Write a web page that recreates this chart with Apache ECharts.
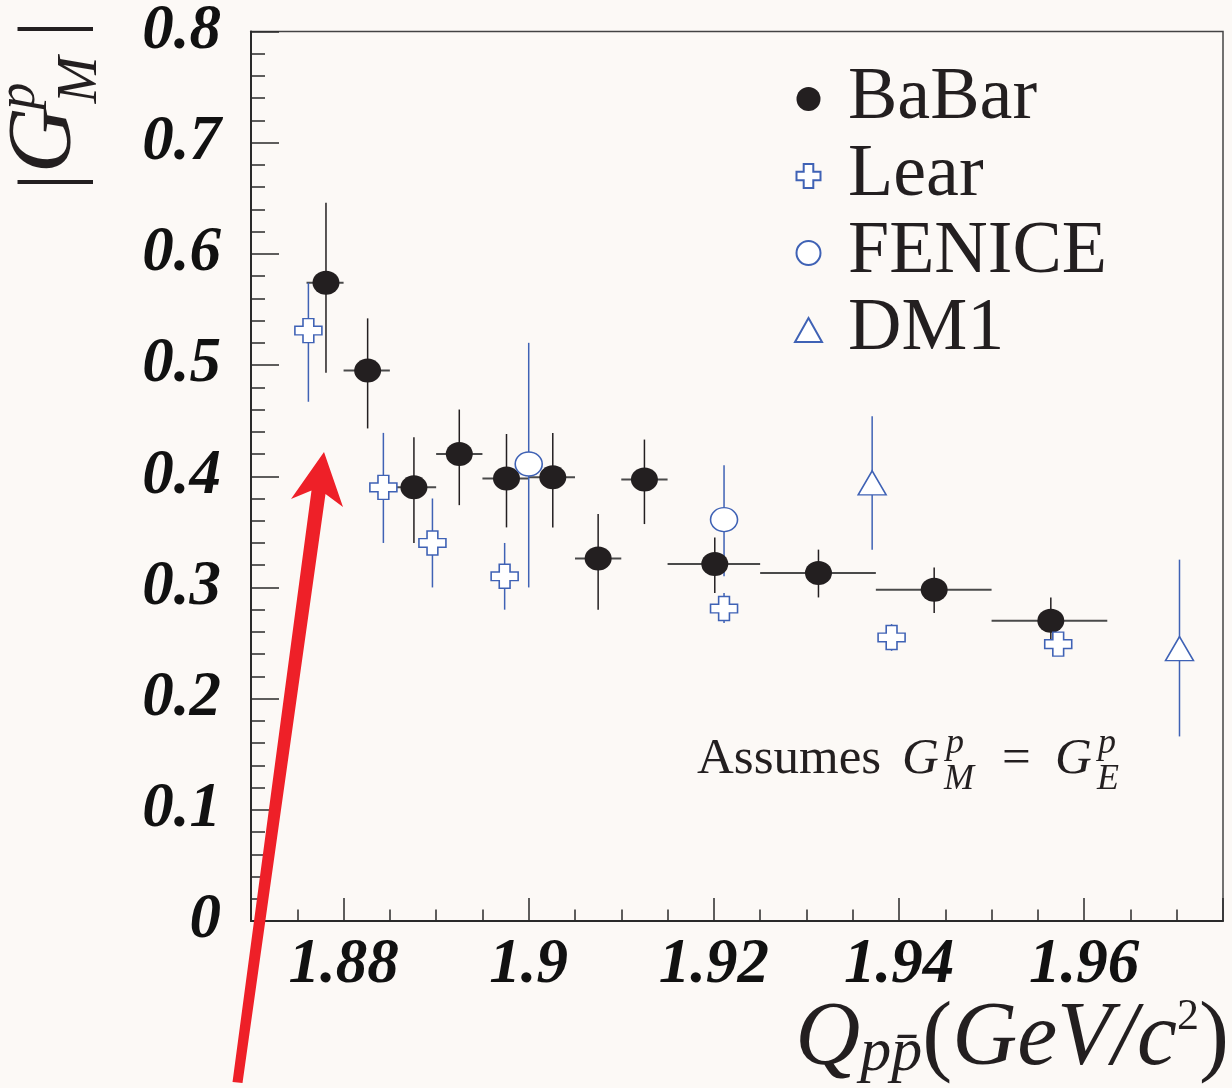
<!DOCTYPE html>
<html>
<head>
<meta charset="utf-8">
<title>|G_M^p| near threshold</title>
<script src="https://cdn.jsdelivr.net/npm/echarts@6.0.0/dist/echarts.min.js"></script>
<style>
  html, body { margin: 0; padding: 0; background: #fcf9f6; }
  #chart { width: 1232px; height: 1088px; }
</style>
</head>
<body>
<div id="chart"></div>
<script>
// BaBar: point, vertical error, mass bin
const babarX = [1.8781, 1.8826, 1.8876, 1.8925, 1.8976, 1.9026, 1.9075, 1.9125, 1.9201, 1.9313, 1.9438, 1.9564];
const babarY = [0.574, 0.495, 0.390, 0.420, 0.398, 0.399, 0.326, 0.397, 0.321, 0.313, 0.298, 0.270];
const babarLo = [0.493, 0.443, 0.340, 0.374, 0.354, 0.354, 0.280, 0.357, 0.295, 0.291, 0.277, 0.248];
const babarHi = [0.646, 0.542, 0.435, 0.460, 0.438, 0.439, 0.366, 0.433, 0.345, 0.334, 0.318, 0.291];
const babarBinLo = [1.876, 1.880, 1.885, 1.890, 1.895, 1.900, 1.905, 1.910, 1.915, 1.925, 1.9375, 1.950];
const babarBinHi = [1.880, 1.885, 1.890, 1.895, 1.900, 1.905, 1.910, 1.915, 1.925, 1.9375, 1.950, 1.9625];

const learX = [1.8762, 1.8843, 1.8896, 1.8974, 1.9211, 1.9392, 1.9572];
const learY = [0.531, 0.390, 0.340, 0.310, 0.281, 0.255, 0.249];
const learLo = [0.467, 0.340, 0.300, 0.280, 0.268, 0.243, 0.240];
const learHi = [0.574, 0.439, 0.380, 0.340, 0.295, 0.267, 0.258];

const feniceX = [1.9000, 1.9211];
const feniceY = [0.411, 0.361];
const feniceLo = [0.300, 0.310];
const feniceHi = [0.520, 0.410];

const dm1X = [1.9371, 1.9703];
const dm1Y = [0.394, 0.245];
const dm1Lo = [0.334, 0.166];
const dm1Hi = [0.454, 0.325];

const legendNames = ['BaBar', 'Lear', 'FENICE', 'DM1'];

const SERIF = '"Liberation Serif", "DejaVu Serif", serif';
const INK = '#231f20';
const BLUE = '#3f62b5';
const AXIS = '#2a2a2a';
const CROSS = 'path://M3,0H7V3.2H10V6.8H7V10H3V6.8H0V3.2H3Z';

function errRows(xs, ys, lo, hi, binLo, binHi) {
  return xs.map((x, i) => [x, ys[i], lo[i], hi[i], binLo ? binLo[i] : x, binHi ? binHi[i] : x]);
}

function errorBars(color, width, binColor) {
  return function (params, api) {
    const x = api.value(0);
    const y = api.value(1);
    const top = api.coord([x, api.value(3)]);
    const bot = api.coord([x, api.value(2)]);
    const children = [{
      type: 'line',
      shape: { x1: top[0], y1: top[1], x2: bot[0], y2: bot[1] },
      style: { stroke: color, lineWidth: width }
    }];
    if (api.value(4) !== api.value(5)) {
      const l = api.coord([api.value(4), y]);
      const r = api.coord([api.value(5), y]);
      children.push({
        type: 'line',
        shape: { x1: l[0], y1: l[1], x2: r[0], y2: r[1] },
        style: { stroke: binColor, lineWidth: 2 }
      });
    }
    return { type: 'group', children };
  };
}

function errSeries(name, data, color, binColor) {
  return {
    name: name + ' err',
    type: 'custom',
    renderItem: errorBars(color, 1.5, binColor),
    data,
    encode: { x: 0, y: 1 },
    z: 2,
    silent: true
  };
}

function markSeries(name, xs, ys, symbol, size, style) {
  return {
    name,
    type: 'scatter',
    data: xs.map((x, i) => [x, ys[i]]),
    symbol,
    symbolSize: size,
    itemStyle: style,
    z: 5,
    silent: true
  };
}

const openStyle = { color: '#ffffff', borderColor: BLUE, borderWidth: 1.5, opacity: 1 };

function txt(x, y, text, size, extra) {
  return {
    type: 'text', x, y,
    style: Object.assign({
      text, fontFamily: SERIF, fontSize: size, fill: INK,
      align: 'left', verticalAlign: 'middle'
    }, extra || {})
  };
}
const ital = { fontStyle: 'italic' };

const chart = echarts.init(document.getElementById('chart'), null, { renderer: 'canvas' });

chart.setOption({
  backgroundColor: '#fcf9f6',
  animation: false,
  grid: { left: 251, right: 9, top: 31, bottom: 167, show: true, borderColor: '#444', borderWidth: 1.5 },
  legend: {
    data: legendNames,
    orient: 'vertical',
    left: 789,
    top: 57,
    itemWidth: 27,
    itemHeight: 24,
    itemGap: 3,
    selectedMode: false,
    formatter: (name) => '{t|' + name + '}',
    textStyle: {
      fontFamily: SERIF, fontSize: 74, lineHeight: 74, color: INK,
      rich: { t: { fontFamily: SERIF, fontSize: 74, lineHeight: 74, color: INK, padding: [0, 0, 0, 21] } }
    }
  },
  xAxis: [{
    type: 'value',
    min: 1.87,
    max: 1.975,
    splitNumber: 5,
    axisLine: { show: true, lineStyle: { color: AXIS, width: 2 } },
    axisTick: { inside: true, length: 23, lineStyle: { color: AXIS, width: 1.5 } },
    splitLine: { show: false },
    axisLabel: {
      margin: 13,
      fontFamily: SERIF, fontSize: 63, fontStyle: 'italic', fontWeight: 'bold', color: '#111',
      formatter: (v) => Math.abs(v / 0.02 - Math.round(v / 0.02)) < 1e-6 ? String(+v.toFixed(3)) : ''
    }
  }, {
    type: 'value',
    position: 'bottom',
    offset: 0,
    min: 1.87,
    max: 1.975,
    interval: 0.005,
    axisLine: { show: false },
    axisTick: { inside: true, length: 11.5, lineStyle: { color: AXIS, width: 1.5 } },
    axisLabel: { show: false },
    splitLine: { show: false }
  }],
  yAxis: {
    type: 'value',
    min: 0,
    max: 0.8,
    interval: 0.1,
    axisLine: { show: true, lineStyle: { color: AXIS, width: 2 } },
    axisTick: { inside: true, length: 28, lineStyle: { color: AXIS, width: 1.5 } },
    minorTick: { show: true, splitNumber: 5, length: 14, lineStyle: { color: AXIS, width: 1.5 } },
    splitLine: { show: false },
    axisLabel: {
      margin: 30,
      fontFamily: SERIF, fontSize: 63, fontStyle: 'italic', fontWeight: 'bold', color: '#111',
      formatter: (v) => String(+v.toFixed(2))
    }
  },
  series: [
    errSeries('BaBar', errRows(babarX, babarY, babarLo, babarHi, babarBinLo, babarBinHi), INK, '#4a4a4a'),
    errSeries('Lear', errRows(learX, learY, learLo, learHi), BLUE, BLUE),
    errSeries('FENICE', errRows(feniceX, feniceY, feniceLo, feniceHi), BLUE, BLUE),
    errSeries('DM1', errRows(dm1X, dm1Y, dm1Lo, dm1Hi), BLUE, BLUE),
    markSeries('BaBar', babarX, babarY, 'circle', [27, 24], { color: INK, opacity: 1 }),
    markSeries('Lear', learX, learY, CROSS, [27, 24], openStyle),
    markSeries('FENICE', feniceX, feniceY, 'circle', [27, 24], openStyle),
    markSeries('DM1', dm1X, dm1Y, 'triangle', [28, 24], openStyle)
  ],
  graphic: [
    // y title |G^p_M|, reads bottom to top
    {
      type: 'group', x: 0, y: 185, rotation: Math.PI / 2,
      children: [
        txt(3, 53, '|', 82, { align: 'center' }),
        txt(45, 46, 'G', 92, { align: 'center', fontStyle: 'italic' }),
        txt(89, 20, 'p', 54, { align: 'center', fontStyle: 'italic' }),
        txt(105, 81, 'M', 56, { align: 'center', fontStyle: 'italic' }),
        txt(156, 53, '|', 82, { align: 'center' })
      ]
    },
    // x title
    {
      type: 'text', x: 1229, y: 1040,
      style: {
        text: '{q|Q}{sub|pp\u0304}{n|(}{q|GeV/c}{sup|2}{n|)}',
        align: 'right', verticalAlign: 'middle', fill: INK,
        rich: {
          q: { fontFamily: SERIF, fontSize: 90, fontStyle: 'italic', lineHeight: 90, fill: INK },
          n: { fontFamily: SERIF, fontSize: 90, lineHeight: 90, fill: INK },
          sub: { fontFamily: SERIF, fontSize: 62, fontStyle: 'italic', lineHeight: 74, verticalAlign: 'bottom', fill: INK },
          sup: { fontFamily: SERIF, fontSize: 44, lineHeight: 44, verticalAlign: 'top', fill: INK }
        }
      }
    },
    // note
    txt(697, 760, 'Assumes', 51),
    txt(902, 760, 'G', 51, ital),
    txt(946, 744, 'p', 36, ital),
    txt(944, 780, 'M', 36, ital),
    txt(1002, 760, '=', 51),
    txt(1055, 760, 'G', 51, ital),
    txt(1098, 744, 'p', 36, ital),
    txt(1097, 780, 'E', 36, ital),
    // red arrow
    {
      type: 'polygon', z: 100,
      shape: { points: [[324, 452], [343, 507], [325.5, 494], [242.5, 1083], [232.5, 1082], [311.5, 490.5], [291, 499]] },
      style: { fill: '#ee2028' }
    }
  ]
});
</script>
</body>
</html>
